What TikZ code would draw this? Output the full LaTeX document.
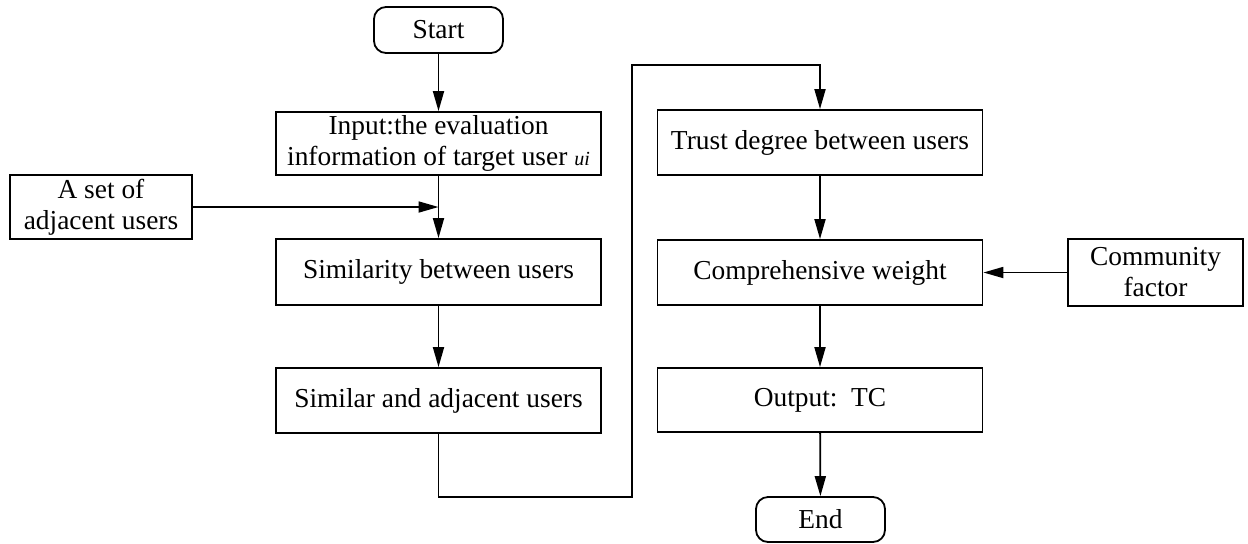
\documentclass[tikz,border=0pt]{standalone}
\usepackage{fontspec}
\setmainfont{Liberation Serif}
\usetikzlibrary{arrows.meta}
\begin{document}
\begin{tikzpicture}[x=0.5pt,y=-0.5pt,
  every node/.style={font=\fontsize{13.7}{15.5}\selectfont, inner sep=0pt, align=center},
  procbox/.style={draw, line width=0.9pt, minimum width=162.5pt, minimum height=32.5pt},
  sidebox/.style={draw, line width=0.9pt},
  termbox/.style={draw, line width=0.9pt, rounded corners=6pt, minimum width=64.5pt, minimum height=23pt},
  flow/.style={line width=0.9pt, -{Triangle[length=10pt,width=5.5pt]}},
  link/.style={line width=0.9pt}]
\useasboundingbox (0,0) rectangle (1248,543);

% left column
\node[termbox] (start) at (438.5,30) {Start};
\node[procbox, minimum height=31.5pt] (input) at (438.5,143.5)
  {Input:the evaluation\\information of target user {\fontsize{10}{12}\selectfont\itshape ui}};
\node[sidebox, minimum width=91pt, minimum height=32pt] (adj) at (101,207) {A set of\\adjacent users};
\node[procbox, minimum height=33pt] (sim) at (438.5,272) {Similarity between users};
\node[procbox] (simadj) at (438.5,400.5) {Similar and adjacent users};

% right column
\node[procbox] (trust) at (820,142.5) {Trust degree between users};
\node[procbox] (comp) at (820,272.5) {Comprehensive weight};
\node[sidebox, minimum width=87.5pt, minimum height=33.5pt] (comm) at (1155.5,272.5) {Community\\factor};
\node[procbox, minimum height=32pt] (out) at (820,400) {Output:\ \ TC};
\node[termbox, minimum height=22.5pt] (end) at (820.5,519.5) {End};

% routing points of the link between the two columns
\coordinate (b1) at (438.5,497);
\coordinate (b2) at (632,497);
\coordinate (t1) at (632,65);
\coordinate (t2) at (820,65);

\draw[flow] (start) -- (input);
\draw[flow] (input) -- (sim);
\draw[flow] (adj.east) -- (adj.east -| input.south);
\draw[flow] (sim) -- (simadj);
\draw[flow] (simadj.south) -- (b1) -- (b2) -- (t1) -- (t2) -- (trust.north);
\draw[flow] (trust) -- (comp);
\draw[flow] (comm.west) -- (comp.east);
\draw[flow] (comp) -- (out);
\draw[flow] (out) -- (end);
\end{tikzpicture}
\end{document}
